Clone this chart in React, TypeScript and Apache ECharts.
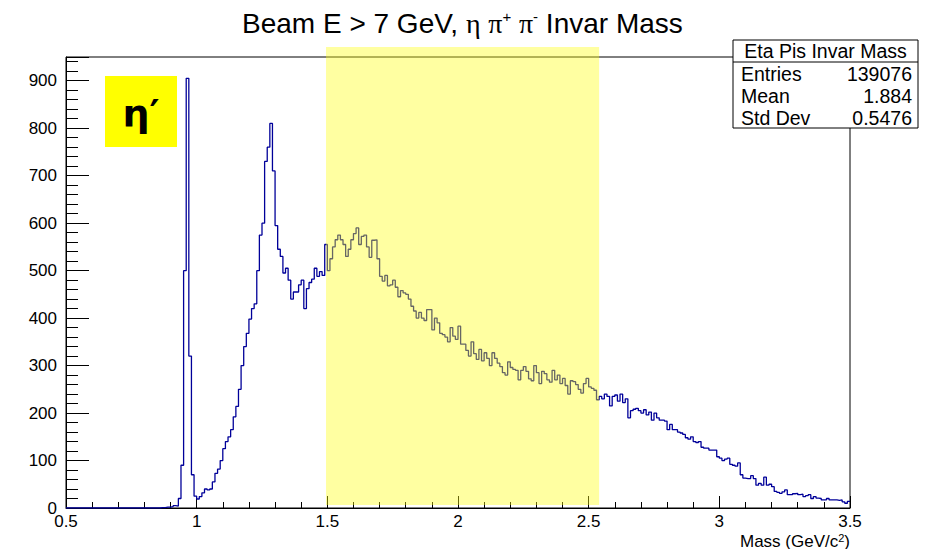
import React, { useEffect, useRef } from "react";
import * as echarts from "echarts";

// Histogram binning (GeV/c^2)
const MASS_MIN = 0.5;
const MASS_MAX = 3.5;
const BIN_WIDTH = 0.01;

// Bin contents, 50 bins per array
const countsLowMass = [
  0, 0, 0, 0, 0, 0, 0, 0, 0, 0,
  0, 0, 0, 0, 0, 0, 0, 0, 0, 0,
  0, 0, 0, 0, 0, 0, 0, 0, 0, 0,
  0, 0, 0, 0, 0, 0, 1, 1, 2, 2,
  3, 5, 4, 20, 90, 500, 905, 320, 70, 25,
];
const countsRise = [
  19, 24, 32, 40, 38, 40, 55, 73, 82, 100,
  125, 140, 150, 165, 192, 214, 250, 300, 340, 368,
  398, 420, 430, 500, 575, 600, 730, 760, 810, 710,
  595, 545, 530, 495, 505, 480, 440, 455, 455, 470,
  480, 420, 462, 475, 482, 505, 488, 498, 490, 555,
];
const countsBandLow = [
  500, 525, 550, 565, 575, 565, 555, 530, 545, 565,
  578, 590, 555, 572, 575, 550, 528, 564, 565, 525,
  488, 478, 490, 468, 470, 480, 465, 445, 458, 453,
  450, 440, 425, 415, 400, 412, 400, 395, 418, 418,
  375, 400, 390, 368, 365, 360, 350, 380, 362, 355,
];
const countsBandHigh = [
  383, 345, 345, 332, 320, 350, 325, 313, 334, 310,
  327, 315, 300, 327, 315, 305, 298, 285, 280, 308,
  296, 292, 290, 270, 290, 298, 288, 272, 268, 300,
  285, 262, 288, 283, 270, 265, 290, 270, 280, 262,
  273, 258, 240, 268, 266, 260, 250, 242, 262, 273,
];
const countsTailLow = [
  255, 252, 248, 228, 235, 230, 240, 235, 215, 235,
  238, 225, 240, 222, 230, 190, 205, 208, 210, 205,
  200, 207, 196, 202, 185, 200, 190, 185, 185, 183,
  165, 176, 165, 165, 160, 158, 155, 148, 145, 150,
  140, 138, 140, 128, 126, 126, 122, 122, 122, 108,
];
const countsTailHigh = [
  105, 100, 103, 105, 92, 90, 88, 95, 70, 63,
  62, 62, 68, 62, 48, 52, 48, 65, 48, 50,
  45, 35, 33, 31, 34, 38, 28, 28, 30, 31,
  28, 29, 24, 26, 28, 20, 24, 21, 20, 17,
  17, 20, 17, 17, 17, 16, 17, 13, 10, 14,
];

// Highlighted mass window
const bandRange = [1.495, 2.54];

// Stats box
const statsTitle = "Eta Pis Invar Mass";
const statsLabels = ["Entries", "Mean", "Std Dev"];
const statsValues = ["139076", "1.884", "0.5476"];

const SANS = "'Liberation Sans Narrow', 'Liberation Sans', Arial, sans-serif";
const SERIF = "'Liberation Serif', 'DejaVu Serif', serif";

export default function App() {
  const ref = useRef<HTMLDivElement>(null);

  useEffect(() => {
    if (!ref.current) return;
    const chart = echarts.init(ref.current, null, { renderer: "svg" });

    const counts = [
      ...countsLowMass,
      ...countsRise,
      ...countsBandLow,
      ...countsBandHigh,
      ...countsTailLow,
      ...countsTailHigh,
    ];
    const data: number[][] = counts.map((v, i) => [
      +(MASS_MIN + i * BIN_WIDTH).toFixed(4),
      v,
    ]);
    data.push([MASS_MAX, counts[counts.length - 1]]);

    chart.setOption({
      animation: false,
      backgroundColor: "#ffffff",
      title: {
        text: "Beam E > 7 GeV, {g|η} {g|π}{sup|+} {g|π}{sup|-} Invar Mass",
        left: 237,
        top: 4,
        textStyle: {
          fontFamily: SANS,
          fontSize: 28,
          fontWeight: "normal",
          color: "#000",
          rich: {
            g: { fontFamily: SERIF, fontSize: 28, color: "#000" },
            sup: {
              fontFamily: SANS,
              fontSize: 15,
              color: "#000",
              verticalAlign: "top",
              padding: [0, 0, 14, 0],
            },
          },
        },
      },
      grid: {
        left: 66,
        right: 89,
        top: 57,
        bottom: 41,
        show: true,
        borderColor: "#000",
        borderWidth: 1,
        backgroundColor: "transparent",
      },
      xAxis: {
        type: "value",
        min: MASS_MIN,
        max: MASS_MAX,
        interval: 0.5,
        axisLine: { show: true, onZero: false, lineStyle: { color: "#000", width: 1 } },
        axisTick: { show: true, inside: true, length: 12, lineStyle: { color: "#000" } },
        minorTick: { show: true, splitNumber: 5, length: 6, lineStyle: { color: "#000" } },
        splitLine: { show: false },
        axisLabel: {
          color: "#000",
          fontFamily: SANS,
          fontSize: 17,
          margin: 5,
        },
      },
      yAxis: {
        type: "value",
        min: 0,
        max: 950,
        interval: 100,
        axisLine: { show: true, lineStyle: { color: "#000", width: 1 } },
        axisTick: { show: true, inside: true, length: 23, lineStyle: { color: "#000" } },
        minorTick: { show: true, splitNumber: 5, length: 12, lineStyle: { color: "#000" } },
        splitLine: { show: false },
        axisLabel: {
          color: "#000",
          fontFamily: SANS,
          fontSize: 17,
          margin: 9,
          showMaxLabel: false,
        },
      },
      series: [
        {
          type: "line",
          data,
          step: "end",
          symbol: "none",
          lineStyle: { color: "#000099", width: 1.3 },
          z: 2,
        },
      ],
    });

    const xa = chart.convertToPixel({ xAxisIndex: 0 }, bandRange[0]) as number;
    const xb = chart.convertToPixel({ xAxisIndex: 0 }, bandRange[1]) as number;

    const statsTexts: any[] = [];
    statsLabels.forEach((lab, i) => {
      statsTexts.push({
        type: "text",
        x: 741,
        y: 74 + i * 22,
        style: { text: lab, fontFamily: SANS, fontSize: 19.5, fill: "#000", align: "left", verticalAlign: "middle" },
      });
      statsTexts.push({
        type: "text",
        x: 912,
        y: 74 + i * 22,
        style: { text: statsValues[i], fontFamily: SANS, fontSize: 19.5, fill: "#000", align: "right", verticalAlign: "middle" },
      });
    });

    chart.setOption({
      graphic: [
        {
          type: "rect",
          z: 100,
          shape: { x: xa, y: 47, width: xb - xa, height: 458 },
          style: { fill: "rgba(255,255,20,0.4)" },
        },
        {
          type: "rect",
          z: 101,
          shape: { x: 105, y: 76, width: 72, height: 71 },
          style: { fill: "#ffff00" },
        },
        {
          type: "text",
          z: 102,
          x: 141,
          y: 113,
          style: {
            text: "η′",
            fontFamily: "'DejaVu Sans', sans-serif",
            fontWeight: "bold",
            fontSize: 38,
            fill: "#000",
            align: "center",
            verticalAlign: "middle",
          },
        },
        {
          type: "rect",
          z: 101,
          shape: { x: 733, y: 40, width: 185, height: 88 },
          style: { fill: "#fff", stroke: "#000", lineWidth: 1 },
        },
        {
          type: "line",
          z: 102,
          shape: { x1: 733, y1: 62, x2: 918, y2: 62 },
          style: { stroke: "#000", lineWidth: 1 },
        },
        {
          type: "text",
          z: 102,
          x: 825.5,
          y: 51,
          style: { text: statsTitle, fontFamily: SANS, fontSize: 19.5, fill: "#000", align: "center", verticalAlign: "middle" },
        },
        ...statsTexts.map((t) => ({ ...t, z: 102 })),
        {
          type: "text",
          z: 102,
          x: 850,
          y: 541,
          style: {
            text: "Mass (GeV/c{sup|2})",
            fontFamily: SANS,
            fontSize: 17,
            fill: "#000",
            align: "right",
            verticalAlign: "middle",
            rich: {
              sup: { fontFamily: SANS, fontSize: 11, fill: "#000", padding: [0, 0, 7, 0] },
            },
          },
        },
      ],
    });

    return () => chart.dispose();
  }, []);

  return (
    <div
      ref={ref}
      style={{ position: "fixed", left: 0, top: 0, width: 939, height: 549 }}
    />
  );
}
